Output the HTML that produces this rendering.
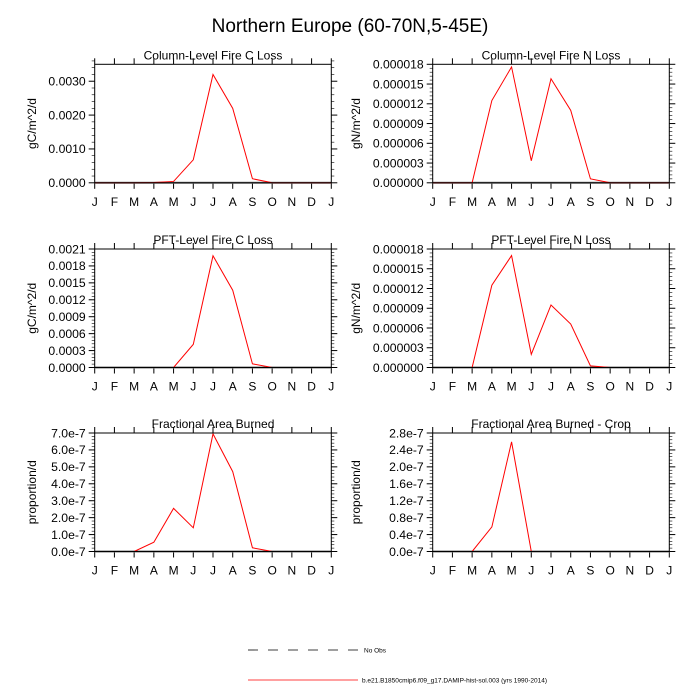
<!DOCTYPE html>
<html><head><meta charset="utf-8"><style>
body{margin:0;background:#fff;}
svg{display:block;font-family:"Liberation Sans",sans-serif;}
</style></head><body>
<svg id="c" width="700" height="700" viewBox="0 0 700 700">
<text x="350" y="32" text-anchor="middle" font-size="19">Northern Europe (60-70N,5-45E)</text>
<g>
<line x1="248" y1="650" x2="358" y2="650" stroke="#000" stroke-width="0.8" stroke-dasharray="10,10"/>
<text x="364" y="652.5" font-size="6.5">No Obs</text>
<line x1="248" y1="680" x2="358" y2="680" stroke="#f00" stroke-width="0.8"/>
<text x="362" y="682.5" font-size="6.5">b.e21.B1850cmip6.f09_g17.DAMIP-hist-sol.003 (yrs 1990-2014)</text>
</g>
</svg>
<script>
const months = ["J","F","M","A","M","J","J","A","S","O","N","D","J"];
const colC = [0,0,0,0.00001,0.00004,0.00068,0.0032,0.0022,0.00012,0,0,0,0];
const colN = [0,0,0,0.0000125,0.0000176,0.00000335,0.0000158,0.000011,0.0000006,0,0,0,0];
const pftC = [0,0,0,0,0,0.00041,0.00198,0.00137,0.000065,0,0,0,0];
const pftN = [0,0,0,0.0000125,0.000017,0.000002,0.0000095,0.0000066,0.00000025,0,0,0,0];
const fab = [0,0,0,0.55e-7,2.55e-7,1.4e-7,6.95e-7,4.72e-7,0.22e-7,0,0,0,0];
const fabCrop = [0,0,0,0.58e-7,2.59e-7,0,0,0,0,0,0,0,0];
const ticksColC = ["0.0000","0.0010","0.0020","0.0030"];
const ticksN = ["0.000000","0.000003","0.000006","0.000009","0.000012","0.000015","0.000018"];
const ticksPftC = ["0.0000","0.0003","0.0006","0.0009","0.0012","0.0015","0.0018","0.0021"];
const ticksFab = ["0.0e-7","1.0e-7","2.0e-7","3.0e-7","4.0e-7","5.0e-7","6.0e-7","7.0e-7"];
const ticksCrop = ["0.0e-7","0.4e-7","0.8e-7","1.2e-7","1.6e-7","2.0e-7","2.4e-7","2.8e-7"];

const panels = [
 {name:"column-c-loss",title:"Column-Level Fire C Loss",unit:"gC/m^2/d",data:colC,ticks:ticksColC,step:0.001,max:0.0035,x:94.7,y:64.3},
 {name:"column-n-loss",title:"Column-Level Fire N Loss",unit:"gN/m^2/d",data:colN,ticks:ticksN,step:0.000003,max:0.000018,x:432.7,y:64.3},
 {name:"pft-c-loss",title:"PFT-Level Fire C Loss",unit:"gC/m^2/d",data:pftC,ticks:ticksPftC,step:0.0003,max:0.0021,x:94.7,y:249},
 {name:"pft-n-loss",title:"PFT-Level Fire N Loss",unit:"gN/m^2/d",data:pftN,ticks:ticksN,step:0.000003,max:0.000018,x:432.7,y:249},
 {name:"fractional-area-burned",title:"Fractional Area Burned",unit:"proportion/d",data:fab,ticks:ticksFab,step:1e-7,max:7e-7,x:94.7,y:433},
 {name:"fractional-area-burned-crop",title:"Fractional Area Burned - Crop",unit:"proportion/d",data:fabCrop,ticks:ticksCrop,step:0.4e-7,max:2.8e-7,x:432.7,y:433}
];
const W=236.6,H=118.5;
const svg=document.getElementById("c");
const NS="http://www.w3.org/2000/svg";
function mk(t,a,p){const e=document.createElementNS(NS,t);for(const k in a)e.setAttribute(k,a[k]);p.appendChild(e);return e;}
panels.forEach(p=>{
 const g=mk("g",{},svg);
 
 
 const xs=i=>p.x+i*W/12;
 const ys=v=>p.y+H-v/p.max*H;
 for(let i=0;i<13;i++){
  const X=xs(i);
  const t1=mk("line",{x1:X,y1:p.y,x2:X,y2:p.y-6,stroke:"#000","stroke-width":1},g);
  
  
  const t2=mk("line",{x1:X,y1:p.y+H,x2:X,y2:p.y+H+6,stroke:"#000","stroke-width":1},g);
  
  
  const lb=mk("text",{x:X,y:p.y+H+23,"text-anchor":"middle","font-size":12},g);
  lb.textContent=months[i];
  
  
 }
 const nMinor=Math.round(p.max/(p.step/5));
 for(let k=0;k<=nMinor;k++){
  const v=k*p.step/5;const Y=ys(v);const major=k%5===0;const L=major?6:3;
  const a=mk("line",{x1:p.x,y1:Y,x2:p.x-L,y2:Y,stroke:"#000","stroke-width":major?1:0.6},g);
  
  
  const b=mk("line",{x1:p.x+W,y1:Y,x2:p.x+W+L,y2:Y,stroke:"#000","stroke-width":major?1:0.6},g);
  
  
 }
 p.ticks.forEach((s,i)=>{
  const lb=mk("text",{x:p.x-9,y:ys(i*p.step)+4.3,"text-anchor":"end","font-size":12.2},g);
  lb.textContent=s;
  
  
 });
 const zl=mk("line",{x1:p.x,y1:ys(0),x2:p.x+W,y2:ys(0),stroke:"#777","stroke-width":2},g);
 
 
 const pl=mk("polyline",{points:p.data.map((v,i)=>xs(i)+","+ys(v)).join(" "),fill:"none",stroke:"#f00","stroke-width":1},g);
 
 
 const fr=mk("rect",{x:p.x,y:p.y,width:W,height:H,fill:"none",stroke:"#000","stroke-width":1},g);
 
 
 const tt=mk("text",{x:p.x+W/2,y:p.y-5,"text-anchor":"middle","font-size":12},g);
 tt.textContent=p.title;
 
 
 const yx=p.x<200?36:360;const yc=p.y+H/2;
 const yt=mk("text",{x:yx,y:yc,"text-anchor":"middle","font-size":12,transform:"rotate(-90 "+yx+" "+yc+")"},g);
 yt.textContent=p.unit;
 
 
});
</script>
</body></html>
